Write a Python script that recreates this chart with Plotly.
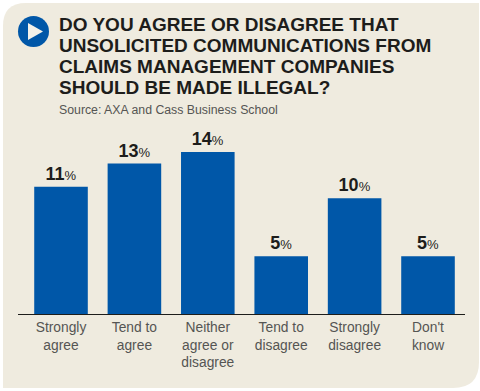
import plotly.graph_objects as go

categories = ["Strongly<br>agree", "Tend to<br>agree", "Neither<br>agree or<br>disagree",
              "Tend to<br>disagree", "Strongly<br>disagree", "Don't<br>know"]
values = [11, 13, 14, 5, 10, 5]
title_lines = ["DO YOU AGREE OR DISAGREE THAT",
               "UNSOLICITED COMMUNICATIONS FROM",
               "CLAIMS MANAGEMENT COMPANIES",
               "SHOULD BE MADE ILLEGAL?"]
source = "Source: AXA and Cass Business School"

W, H = 480, 391
BLUE = "#0057a8"
PANEL = "#efebdf"
FONT = "Liberation Sans"
px = lambda x: x / W
py = lambda y: 1 - y / H

fig = go.Figure(go.Bar(
    x=categories, y=values, width=0.73, marker=dict(color=BLUE, line=dict(width=0)),
    text=[f"<b>{v}</b><span style='font-size:13px'>%</span>" for v in values],
    textposition="outside", cliponaxis=False,
    textfont=dict(family=FONT, size=18, color="#1d1d1b"),
    hoverinfo="skip"))

panel = (f"M {px(3)} {py(26)} Q {px(3)} {py(3)} {px(26)} {py(3)} L {px(479)} {py(3)} "
         f"L {px(479)} {py(362)} Q {px(479)} {py(388)} {px(453)} {py(388)} L {px(3)} {py(388)} Z")
shapes = [
    dict(type="path", xref="paper", yref="paper", path=panel, fillcolor=PANEL, line_width=0, layer="below"),
    dict(type="circle", xref="paper", yref="paper", x0=px(18), x1=px(49), y0=py(47), y1=py(16),
         fillcolor=BLUE, line_width=0),
    dict(type="path", xref="paper", yref="paper",
         path=f"M {px(28)} {py(23)} L {px(43)} {py(31.5)} L {px(28)} {py(40)} Z",
         fillcolor="#f4f2ea", line_width=0),
]

annotations = [dict(xref="paper", yref="paper", x=px(58), y=py(25 + 20.7 * i),
                    text=f"<b>{t}</b>",
                    showarrow=False, xanchor="left", yanchor="middle", xshift=-1,
                    font=dict(family=FONT, size=19, color="#1d1d1b"))
               for i, t in enumerate(title_lines)]
annotations.append(dict(xref="paper", yref="paper", x=px(58), y=py(110), text=source, showarrow=False,
                        xanchor="left", yanchor="middle", xshift=-1,
                        font=dict(family=FONT, size=12.3, color="#555553")))

fig.update_layout(
    width=W, height=H, margin=dict(l=0, r=0, t=0, b=0), showlegend=False,
    paper_bgcolor="white", plot_bgcolor="rgba(0,0,0,0)",
    shapes=shapes, annotations=annotations, bargap=0.27,
    xaxis=dict(domain=[px(18), px(465)], range=[-0.586, 5.504], showgrid=False, ticks="",
               showline=True, linecolor="#1d1d1b", linewidth=1, zeroline=False, type="category",
               tickfont=dict(family=FONT, size=13.8, color="#555553"), ticklabelstandoff=0),
    yaxis=dict(domain=[py(314), py(100)], range=[0, 18.5], visible=False),
)
fig.write_html("out.html", config=dict(displayModeBar=False),
               post_script="document.body.style.margin='0';document.documentElement.style.overflow='hidden';")
